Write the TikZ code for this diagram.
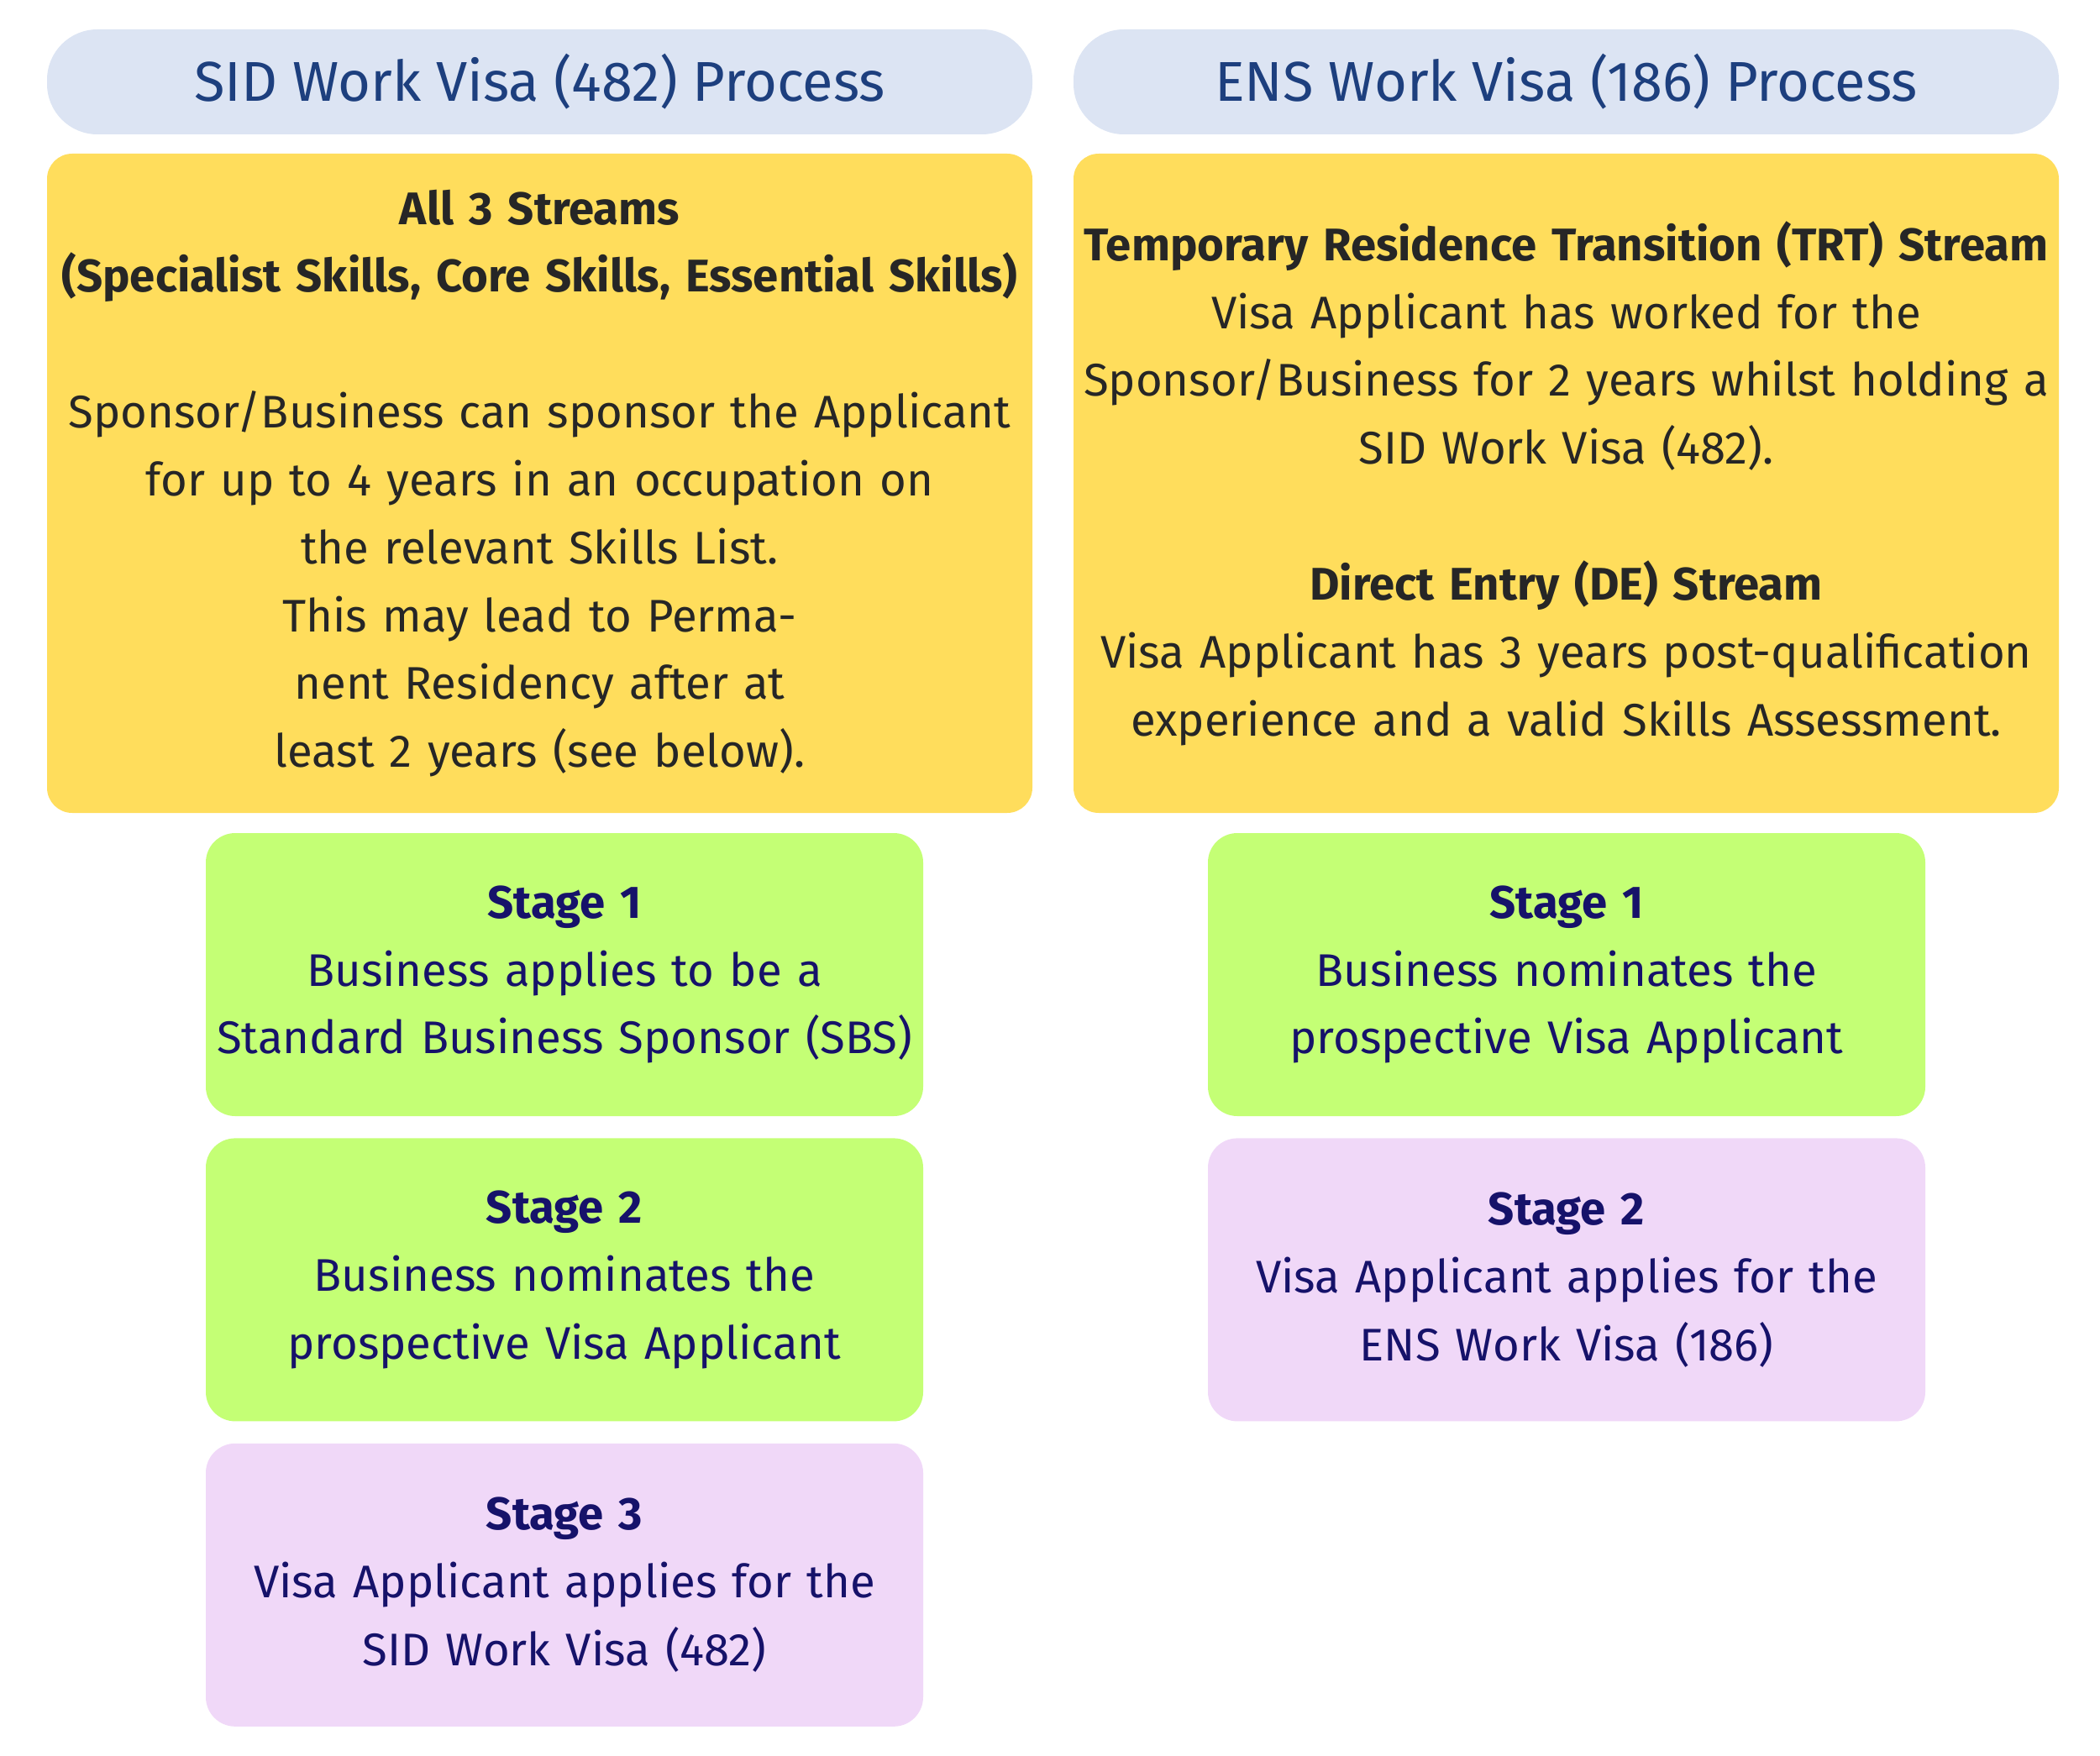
\documentclass[tikz,border=0pt]{standalone}
\usepackage{fontspec}
\setmainfont{Fira Sans}
\usetikzlibrary{positioning}
\definecolor{headfill}{HTML}{DCE4F3}
\definecolor{headtext}{HTML}{1D3F7E}
\definecolor{streamfill}{HTML}{FFDD5C}
\definecolor{stagegreen}{HTML}{C4FF75}
\definecolor{stagepink}{HTML}{F0D8F8}
\definecolor{stagetext}{HTML}{16126A}
\tikzset{
  header/.style={fill=headfill,text=headtext,rounded corners=0.6cm,minimum width=11.73cm,minimum height=1.25cm,font=\fontsize{19}{23}\selectfont},
  stream/.style={fill=streamfill,text=black!85,rounded corners=0.3cm,inner sep=0pt,text width=11.5cm,minimum width=11.73cm,minimum height=7.85cm,align=center,font=\fontsize{15.5}{23}\selectfont},
  stage/.style={rounded corners=0.35cm,text=stagetext,inner sep=0pt,text width=8.3cm,minimum width=8.54cm,minimum height=3.37cm,align=center,font=\fontsize{15.5}{23}\selectfont},
  green/.style={stage,fill=stagegreen},
  pink/.style={stage,fill=stagepink}
}
\begin{document}
\begin{tikzpicture}
\useasboundingbox (0,0) rectangle (25,-20.9);
% left column
\node[header] (sidhead) at (6.425,-0.975) {SID Work Visa (482) Process};
\node[stream] (sidstream) at (6.425,-5.755) {\textbf{All 3 Streams}\\\textbf{(Specialist Skills, Core Skills, Essential Skills)}\\[23pt]
Sponsor/Business can sponsor the Applicant\\for up to 4 years in an occupation on\\the relevant Skills List.\\This may lead to Permanent Residency after at\\least 2 years (see below).\\[10pt]};
\node[green] (sid1) at (6.72,-11.605) {\textbf{Stage 1}\\Business applies to be a\\Standard Business Sponsor (SBS)};
\node[green,below=0.25cm of sid1] (sid2) {\textbf{Stage 2}\\Business nominates the\\prospective Visa Applicant};
\node[pink,below=0.25cm of sid2] (sid3) {\textbf{Stage 3}\\Visa Applicant applies for the\\SID Work Visa (482)};
% right column
\node[header] (enshead) at (18.645,-0.975) {ENS Work Visa (186) Process};
\node[stream] (ensstream) at (18.645,-5.755) {\textbf{Temporary Residence Transition (TRT) Stream}\\Visa Applicant has worked for the\\Sponsor/Business for 2 years whilst holding a\\SID Work Visa (482).\\[23pt]
\textbf{Direct Entry (DE) Stream}\\Visa Applicant has 3 years post-qualification\\experience and a valid Skills Assessment.};
\node[green] (ens1) at (18.65,-11.605) {\textbf{Stage 1}\\Business nominates the\\prospective Visa Applicant};
\node[pink,below=0.25cm of ens1] (ens2) {\textbf{Stage 2}\\Visa Applicant applies for the\\ENS Work Visa (186)};
\end{tikzpicture}
\end{document}
